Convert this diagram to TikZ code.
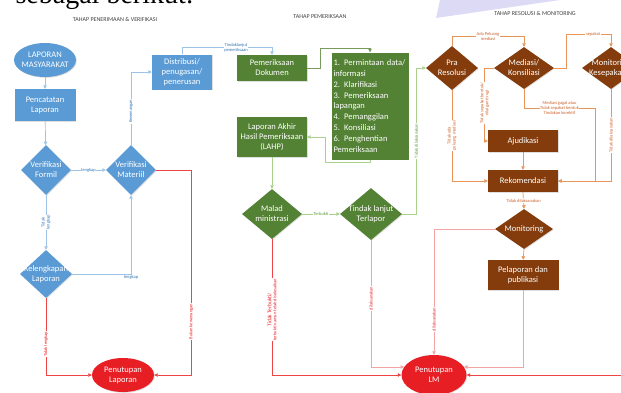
\documentclass[tikz,border=0pt]{standalone}
\usepackage{fontspec}
\setmainfont{Carlito}
\newfontfamily\judulfont{Liberation Serif}
\usetikzlibrary{shapes.geometric, arrows.meta, positioning, calc, shadows}

\definecolor{biru}{HTML}{5B9BD5}
\definecolor{birugaris}{HTML}{9DC3E6}
\definecolor{birutulis}{HTML}{2E75B6}
\definecolor{hijau}{HTML}{548235}
\definecolor{hijaugaris}{HTML}{A9D18E}
\definecolor{hijautulis}{HTML}{5E9A3A}
\definecolor{coklat}{HTML}{843C0C}
\definecolor{oranye}{HTML}{E8955A}
\definecolor{oranyetulis}{HTML}{D0622A}
\definecolor{merah}{HTML}{E81E25}
\definecolor{merahgaris}{HTML}{EE4444}
\definecolor{pinkgaris}{HTML}{F5A3A3}
\definecolor{lavender}{HTML}{DDDAF5}

\begin{document}
\begin{tikzpicture}[x=1pt, y=-1pt,
  bayang/.style={drop shadow={shadow xshift=0.8pt, shadow yshift=-0.8pt, opacity=0.25}},
  kotak/.style={rectangle, text=white, align=center, inner sep=1pt, font=\fontsize{8.5}{10}\selectfont, bayang},
  wajik/.style={diamond, inner sep=0pt, bayang},
  elips/.style={ellipse, inner sep=0pt, bayang},
  isi/.style={text=white, align=center, font=\fontsize{8.5}{10}\selectfont},
  tahap/.style={font=\fontsize{6}{7}\selectfont, text=black!75},
  ket/.style={font=\fontsize{4.5}{5}\selectfont, fill=white, inner sep=0.6pt, align=center},
  garis/.style={-{Triangle[length=3.5pt,width=3.5pt]}, line width=0.7pt},
  bgaris/.style={garis, draw=birugaris},
  hgaris/.style={garis, draw=hijaugaris},
  ogaris/.style={garis, draw=oranye},
  mgaris/.style={garis, draw=merahgaris},
  pgaris/.style={garis, draw=pinkgaris}]
\useasboundingbox (0,0) rectangle (621,392);

% judul
\fill[lavender] (440,0) -- (560,0) -- (436,18) -- cycle;
\node[anchor=base west, font=\judulfont\fontsize{28}{28}\selectfont] (judul) at (12,3) {sebagai berikut:};
\node[tahap] (t1) at (115,19) {TAHAP PENERIMAAN \& VERIFIKASI};
\node[tahap] (t2) at (320,17) {TAHAP PEMERIKSAAN};
\node[tahap] (t3) at (535,13) {TAHAP RESOLUSI \& MONITORING};

% penerimaan dan verifikasi
\node[elips, fill=biru, minimum width=62pt, minimum height=34pt, label={[isi]center:LAPORAN\\MASYARAKAT}] (lm) at (45,60) {};
\node[kotak, fill=biru, minimum width=61pt, minimum height=32pt] (pc) at (45,105) {Pencatatan\\Laporan};
\node[wajik, fill=biru, minimum width=50pt, minimum height=50pt, label={[isi]center:Verifikasi\\Formil}] (vf) at (46,170) {};
\node[wajik, fill=biru, minimum width=52pt, minimum height=48pt, label={[isi]center:Kelengkapan\\Laporan}] (kl) at (46,274) {};
\node[wajik, fill=biru, minimum width=50pt, minimum height=50pt, label={[isi]center:Verifikasi\\Materiil}] (vm) at (131,170) {};
\node[kotak, fill=biru, minimum width=60pt, minimum height=35pt] (dis) at (182,72) {Distribusi/\\penugasan/\\penerusan};
\node[elips, fill=merah, minimum width=62pt, minimum height=34pt, label={[isi]center:Penutupan\\Laporan}] (ppl) at (123,375) {};

% pemeriksaan
\node[kotak, fill=hijau, minimum width=70pt, minimum height=26pt] (pd) at (272,68) {Pemeriksaan\\Dokumen};
\node[kotak, fill=hijau, minimum width=77pt, minimum height=107pt, text width=73pt, align=left, font=\fontsize{8.5}{10.8}\selectfont] (ls) at (370,106)
  {1. Permintaan data/\\informasi\\2. Klarifikasi\\3. Pemeriksaan\\lapangan\\4. Pemanggilan\\5. Konsiliasi\\6. Penghentian\\Pemeriksaan};
\node[kotak, fill=hijau, minimum width=70pt, minimum height=40pt] (lahp) at (272,137) {Laporan Akhir\\Hasil Pemeriksaan\\(LAHP)};
\node[wajik, fill=hijau, minimum width=60pt, minimum height=50pt, label={[isi]center:Malad\\ministrasi}] (md) at (272,214) {};
\node[wajik, fill=hijau, minimum width=62pt, minimum height=52pt, label={[isi]center:Tindak lanjut\\Terlapor}] (tl) at (371,214) {};
\node[elips, fill=merah, minimum width=65pt, minimum height=40pt, label={[isi]center:Penutupan\\LM}] (plm) at (434,375) {};

% resolusi dan monitoring
\node[wajik, fill=coklat, minimum width=52pt, minimum height=44pt, label={[isi]center:Pra\\Resolusi}] (pr) at (452,68) {};
\node[wajik, fill=coklat, minimum width=60pt, minimum height=42pt, label={[isi]center:Mediasi/\\Konsiliasi}] (me) at (524,68) {};
\node[wajik, fill=coklat, minimum width=58pt, minimum height=42pt, label={[isi]center:Monitoring\\Kesepakatan}] (mk) at (611,68) {};
\node[kotak, fill=coklat, minimum width=70pt, minimum height=22pt] (aj) at (523,141) {Ajudikasi};
\node[kotak, fill=coklat, minimum width=70pt, minimum height=22pt] (rk) at (523,181) {Rekomendasi};
\node[wajik, fill=coklat, minimum width=58pt, minimum height=40pt, label={[isi]center:Monitoring}] (mo) at (524,229) {};
\node[kotak, fill=coklat, minimum width=71pt, minimum height=30pt] (pb) at (523,275) {Pelaporan dan\\publikasi};
\coordinate (j1) at (595,181);
\coordinate (kanan) at (621,375);

%connections
\draw[bgaris] (lm) -- (pc);
\draw[bgaris] (pc) -- (vf);
\draw[bgaris] (vf.east) -- node[ket, text=birutulis] {lengkap} (vm.west);
\draw[bgaris] (vf.south) -- node[ket, text=birutulis, rotate=90] {Tidak\\lengkap} (kl.north);
\draw[bgaris] (kl.east) -| node[pos=0.5, below=0.5pt, ket, text=birutulis] {lengkap} (vm.south);
\draw[bgaris] (vm.north) |- node[pos=0.23, ket, text=birutulis, rotate=90] {Kewenangan} (dis.west);
\draw[bgaris] (dis.north) -- ++(0,-7) -| node[pos=0.3, ket, text=birutulis] {Tindaklanjut\\pemeriksaan} (pd.north);
\draw[mgaris] (kl.south) |- node[pos=0.3, ket, text=merah, rotate=90] {Tidak lengkap} (ppl.west);
\draw[mgaris] (vm.east) -- ++(35,0) |- node[pos=0.37, ket, text=merah, rotate=90] {Bukan kewenangan} (ppl.east);

\draw[garis, draw=hijau!80] (pd.east) -- ++(13,0) -- ++(0,-20) -| (ls.north);
\draw[hgaris] (ls.south) -- ++(0,3) -- ++(-45,0) |- (lahp.east);
\draw[hgaris] (lahp) -- (md);
\draw[hgaris] (md.east) -- node[ket, text=hijautulis] {Terbukti} (tl.west);
\draw[hgaris] (tl.east) -- ++(14,0) |- node[pos=0.25, ket, text=hijautulis, rotate=90] {Tidak dilaksanakan} (pr.west);
\draw[mgaris] (md.south) |- node[pos=0.26, ket, text=merah, rotate=90] {{\fontsize{5.5}{6}\selectfont Tidak Terbukti/}\\terbukti namun telah diselesaikan} (plm.west);
\draw[pgaris] (tl.south) |- node[pos=0.23, ket, text=merah, rotate=90] {dilaksanakan} (plm.165);

\draw[ogaris] (pr.north) -- ++(0,-9) -| node[pos=0.25, ket, text=oranyetulis] {Ada Peluang\\mediasi} (me.north);
\draw[ogaris] (me.east) -- ++(12,0) -- ++(0,-34) -| node[pos=0.3, ket, text=oranyetulis] {sepakat} (mk.north);
\draw[ogaris] (me.west) -- ++(-9,0) |- node[pos=0.24, ket, text=oranyetulis, rotate=90] {Tidak sepakat bentuk/\\nilai ganti rugi} (aj.west);
\draw[ogaris] (me.south) -- ++(0,19) -| node[pos=0.25, ket, text=oranyetulis] {Mediasi gagal atau\\Tidak sepakat bentuk\\Tindakan korektif} (j1) -- (rk.east);
\draw[ogaris] (mk.south) |- node[pos=0.25, ket, text=oranyetulis, rotate=90] {Tidak dilaksanakan} (rk.east);
\draw[ogaris] (pr.south) |- node[pos=0.25, ket, text=oranyetulis, rotate=90] {Tidak ada\\peluang mediasi} (rk.west);
\draw[ogaris] (aj) -- (rk);
\draw[ogaris] (rk.south) -- node[ket, text=oranyetulis] {Tidak dilaksanakan} (mo.north);
\draw[ogaris] (mo.south) -- (pb.north);
\draw[pgaris] (mo.west) -| node[pos=0.86, ket, text=merah, rotate=90] {dilaksanakan} (plm.north);
\draw[pgaris] (pb.south) |- (plm.15);
\draw[mgaris] (kanan) -- (plm.east);
\end{tikzpicture}
\end{document}
